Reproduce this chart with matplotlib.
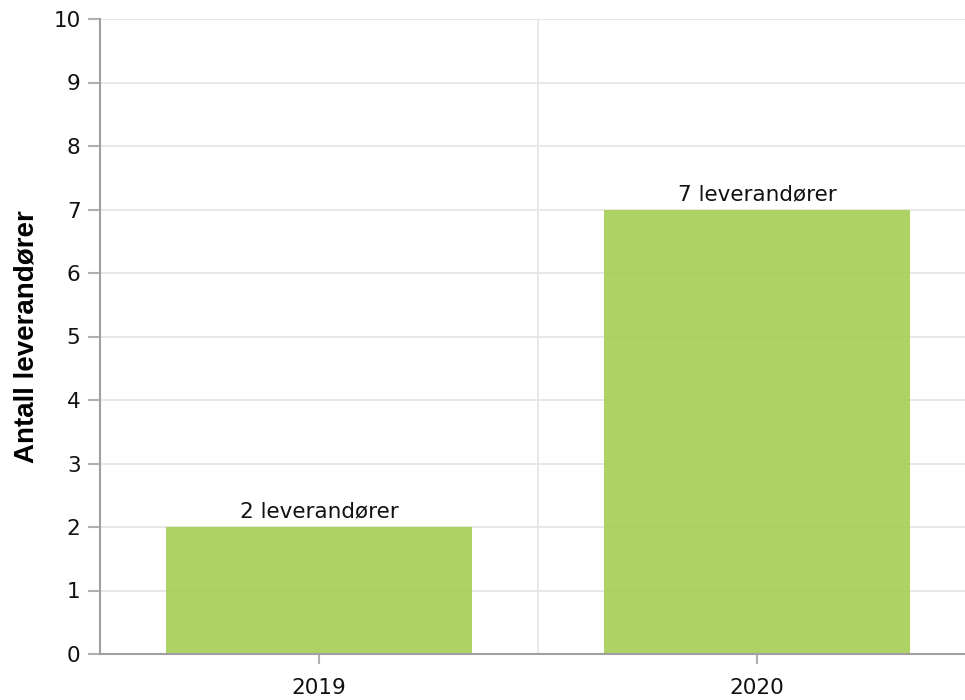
import matplotlib
matplotlib.use("Agg")
import matplotlib.pyplot as plt
from matplotlib.ticker import MultipleLocator

# Data
years = ["2019", "2020"]
suppliers = [2, 7]
bar_labels = ["2 leverandører", "7 leverandører"]

fig = plt.figure(figsize=(9.65, 7.0), dpi=100)
ax = fig.add_axes([100 / 965, 46 / 700, 865 / 965, 635 / 700])

x = list(range(len(years)))
ax.bar(x, suppliers, width=0.70, color="#a5ce52", alpha=0.9, zorder=2)

for xi, v, lab in zip(x, suppliers, bar_labels):
    ax.annotate(lab, (xi, v), xytext=(0, 4), textcoords="offset points",
                ha="center", va="bottom", fontsize=15.5, color="#111111",
                family="DejaVu Sans")

ax.set_xlim(-0.5, -0.5 + 865 / 438)
ax.set_ylim(0, 10)
ax.yaxis.set_major_locator(MultipleLocator(1))
ax.set_xticks(x)
ax.set_xticklabels(years)

# grid: horizontal at each integer, vertical between categories
ax.grid(axis="y", color="#e6e6e6", linewidth=1.3, zorder=0)
ax.axvline(0.5, color="#e6e6e6", linewidth=1.3, zorder=0)
ax.set_axisbelow(True)

for side in ["top", "right"]:
    ax.spines[side].set_visible(False)
for side in ["left", "bottom"]:
    ax.spines[side].set_color("#a0a0a0")
    ax.spines[side].set_linewidth(1.5)

ax.tick_params(axis="y", length=9, width=1.5, color="#b0b0b0", labelsize=15.5,
               pad=5, labelcolor="#111111")
ax.tick_params(axis="x", length=7, width=1.5, color="#b0b0b0", labelsize=15.5,
               pad=10, labelcolor="#111111")

ax.set_ylabel("Antall leverandører", fontsize=20, fontweight="bold",
              family="Liberation Sans", labelpad=10)

fig.savefig("out.png", dpi=100)
